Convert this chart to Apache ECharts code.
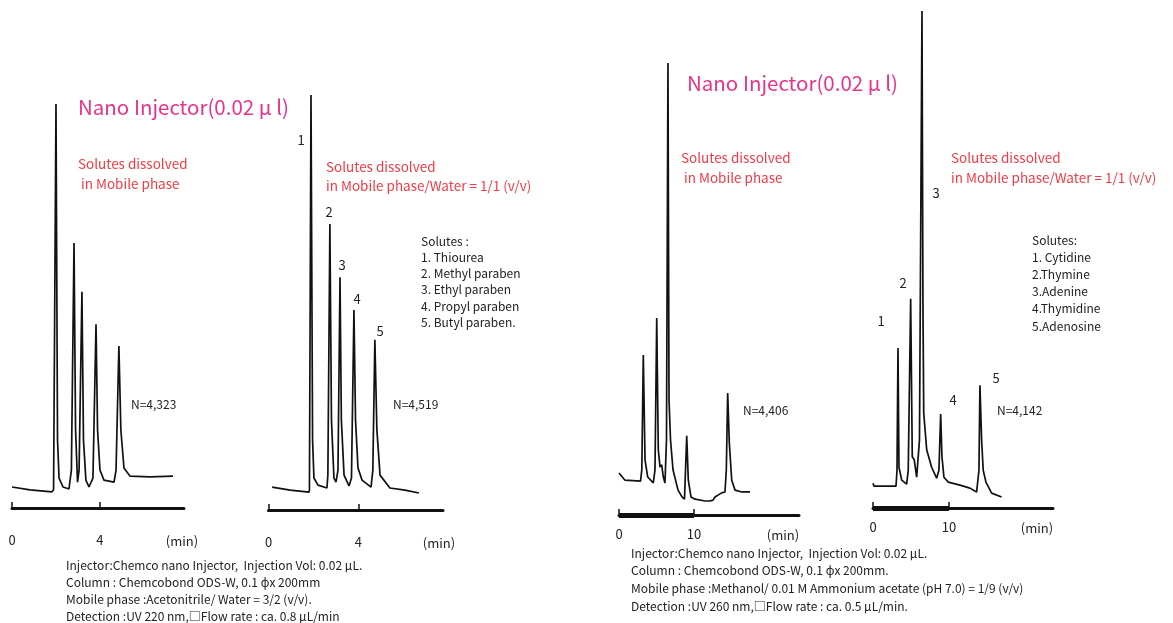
<!DOCTYPE html>
<html>
<head>
<meta charset="utf-8">
<script src="https://cdn.jsdelivr.net/npm/echarts@6/dist/echarts.min.js"></script>
<style>
  html, body { margin: 0; padding: 0; background: #fff; }
  #main { width: 1173px; height: 623px; }
  .shade { position: absolute; left: 0; top: -20px; width: 1173px; height: 20px; box-shadow: 0 2px 8px rgba(0,0,0,0.12); }
</style>
</head>
<body>
<div class="shade"></div>
<div id="main"></div>
<script>
// 左：パラベン類（0.02 µl 注入）
var p1Time   = [0.0, 0.82, 1.82, 1.89, 2.0, 2.07, 2.14, 2.32, 2.59, 2.70, 2.82, 2.89, 2.98, 3.05, 3.18, 3.25, 3.36, 3.5, 3.68, 3.82, 3.89, 4.0, 4.18, 4.64, 4.73, 4.86, 4.95, 5.09, 5.36, 6.27, 7.32];
var p1Signal = [5.2, 4.5, 4.0, 4.5, 100, 16.8, 7.4, 5.2, 4.7, 9.4, 65.6, 19.3, 6.4, 9.4, 53.5, 16.8, 6.9, 5.2, 7.4, 45.5, 19.3, 9.4, 6.9, 6.4, 9.4, 40.1, 19.3, 9.9, 7.9, 7.7, 7.9];

var p2Time   = [0.16, 0.96, 1.8, 1.82, 1.89, 1.96, 2.02, 2.2, 2.6, 2.64, 2.73, 2.8, 2.91, 3.0, 3.09, 3.18, 3.24, 3.36, 3.58, 3.69, 3.8, 3.87, 3.98, 4.16, 4.56, 4.64, 4.73, 4.82, 4.96, 5.4, 6.07, 6.69];
var p2Signal = [5.5, 4.8, 4.3, 4.8, 100, 16.9, 7.7, 6.0, 5.3, 8.4, 68.9, 21.7, 7.7, 6.7, 9.6, 56.1, 21.7, 8.4, 5.8, 7.7, 48.2, 21.7, 10.1, 7.2, 5.5, 9.6, 41.0, 19.3, 8.4, 5.3, 4.8, 4.1];

// 右：核酸塩基類
var p3Time   = [0.0, 0.8, 2.87, 3.04, 3.24, 3.47, 3.83, 4.57, 4.8, 5.03, 5.24, 5.47, 5.69, 5.91, 6.13, 6.33, 6.53, 6.67, 6.87, 7.2, 7.87, 8.4, 8.73, 8.87, 9.03, 9.24, 9.6, 10.13, 11.47, 12.13, 12.36, 12.53, 12.8, 13.69, 14.13, 14.31, 14.49, 14.71, 15.03, 15.47, 16.36, 17.47];
var p3Signal = [9.3, 7.7, 7.5, 10.0, 35.4, 12.2, 8.4, 7.1, 10.0, 43.6, 14.4, 10.6, 11.1, 8.4, 7.1, 16.6, 100, 25.4, 16.6, 10.0, 5.5, 4.0, 3.5, 10.0, 17.5, 7.7, 4.0, 3.5, 3.1, 3.1, 2.7, 3.3, 4.0, 4.9, 5.1, 10.0, 27.0, 15.9, 7.7, 5.5, 5.1, 5.1];

var p4Time   = [0, 0.13, 3.03, 3.16, 3.29, 3.42, 3.78, 4.43, 4.64, 4.96, 5.17, 5.43, 5.75, 5.96, 6.12, 6.45, 6.58, 6.68, 7.07, 7.72, 8.38, 8.68, 8.91, 9.08, 9.34, 9.91, 11.45, 12.76, 13.64, 13.95, 14.08, 14.3, 14.51, 14.87, 15.62, 16.93];
var p4Signal = [5.0, 4.4, 4.4, 7.6, 32.2, 8.2, 5.6, 4.8, 7.6, 42.1, 10.3, 9.7, 6.2, 6.0, 13.7, 100, 40.0, 19.1, 11.7, 8.2, 6.0, 7.6, 18.9, 10.3, 6.2, 5.2, 4.6, 4.0, 3.2, 7.6, 24.7, 13.7, 7.6, 5.2, 3.0, 2.2];

var ticksShort = [0, 4];
var ticksLong  = [0, 10];
var peakNumbers = ['1', '2', '3', '4', '5'];
var solutesParaben = ['Solutes :', '1. Thiourea', '2. Methyl paraben', '3. Ethyl paraben', '4. Propyl paraben', '5. Butyl paraben.'];
var solutesNucleo  = ['Solutes:', '1. Cytidine', '2.Thymine', '3.Adenine', '4.Thymidine', '5.Adenosine'];
var plates = ['N=4,323', 'N=4,519', 'N=4,406', 'N=4,142'];
var condLeft = [
  'Injector:Chemco nano Injector,  Injection Vol: 0.02 \u03bcL.',
  'Column : Chemcobond ODS-W, 0.1 \u03d5x 200mm',
  'Mobile phase :Acetonitrile/ Water = 3/2 (v/v).',
  'Detection :UV 220 nm,\u25a1Flow rate : ca. 0.8 \u03bcL/min'
];
var condRight = [
  'Injector:Chemco nano Injector,  Injection Vol: 0.02 \u03bcL.',
  'Column : Chemcobond ODS-W, 0.1 \u03d5x 200mm.',
  'Mobile phase :Methanol/ 0.01 M Ammonium acetate (pH 7.0) = 1/9 (v/v)',
  'Detection :UV 260 nm,\u25a1Flow rate : ca. 0.5 \u03bcL/min.'
];

var FONT = '"Noto Sans CJK JP", "Noto Sans", sans-serif';
var PINK = '#e8338c', RED = '#f23a45', INK = '#222';

function zip(a, b) {
  return a.map(function (v, i) { return [v, b[i]]; });
}

function xAx(gi, max, ticks, margin) {
  return {
    gridIndex: gi, type: 'value', min: 0, max: max,
    axisLine: { show: true, onZero: false, lineStyle: { color: '#111', width: 3 } },
    axisTick: { show: true, inside: true, length: 6, customValues: ticks, lineStyle: { color: '#111', width: 1.5 } },
    axisLabel: { customValues: ticks, margin: margin, fontSize: 13, color: INK, fontFamily: FONT },
    splitLine: { show: false }
  };
}

function yAx(gi) {
  return { gridIndex: gi, type: 'value', min: 0, max: 100, show: false };
}

function trace(i, t, s) {
  return {
    type: 'line', xAxisIndex: i, yAxisIndex: i, data: zip(t, s),
    symbol: 'none', clip: false, lineStyle: { color: '#111', width: 1.7 }
  };
}

function txt(x, y, text, size, color, align) {
  return {
    type: 'text', x: x, y: y,
    style: { text: text, fill: color, fontSize: size, fontFamily: FONT, align: align || 'left', verticalAlign: 'middle' }
  };
}

var g = [];
// 題
g.push(txt(78, 107, 'Nano Injector(0.02 \u03bc l)', 20.5, PINK));
g.push(txt(687, 83, 'Nano Injector(0.02 \u03bc l)', 20.5, PINK));
// 溶媒条件
g.push(txt(78, 164, 'Solutes dissolved', 13.5, RED));
g.push(txt(81, 184, 'in Mobile phase', 13.5, RED));
g.push(txt(326, 167, 'Solutes dissolved', 13.5, RED));
g.push(txt(326, 186, 'in Mobile phase/Water = 1/1 (v/v)', 13.5, RED));
g.push(txt(681, 158, 'Solutes dissolved', 13.5, RED));
g.push(txt(684, 178, 'in Mobile phase', 13.5, RED));
g.push(txt(951, 158, 'Solutes dissolved', 13.5, RED));
g.push(txt(951, 178, 'in Mobile phase/Water = 1/1 (v/v)', 13.5, RED));
// 理論段数
g.push(txt(131, 404, plates[0], 12, INK));
g.push(txt(393, 404, plates[1], 12, INK));
g.push(txt(743, 410, plates[2], 12, INK));
g.push(txt(997, 410, plates[3], 12, INK));
// ピーク番号
var pos2 = [[301, 140], [329, 212], [342, 265], [357, 299], [380, 331]];
var pos4 = [[881, 321], [903, 283], [936, 193], [953, 400], [996, 378]];
peakNumbers.forEach(function (n, i) {
  g.push(txt(pos2[i][0], pos2[i][1], n, 13, INK, 'center'));
  g.push(txt(pos4[i][0], pos4[i][1], n, 13, INK, 'center'));
});
// 溶質一覧
solutesParaben.forEach(function (s, i) { g.push(txt(421, 241 + i * 16.3, s, 12, INK)); });
solutesNucleo.forEach(function (s, i) { g.push(txt(1032, 240 + i * 17.2, s, 12, INK)); });
// (min)
g.push(txt(182, 541, '(min)', 13, INK, 'center'));
g.push(txt(439, 543, '(min)', 13, INK, 'center'));
g.push(txt(783, 535, '(min)', 13, INK, 'center'));
g.push(txt(1037, 528, '(min)', 13, INK, 'center'));
// 分析条件
condLeft.forEach(function (s, i) { g.push(txt(66, 565 + i * 17, s, 12, INK)); });
condRight.forEach(function (s, i) { g.push(txt(631, 553 + i * 17.7, s, 12, INK)); });

var chart = echarts.init(document.getElementById('main'));
var thick = function (to) {
  return {
    silent: true, symbol: 'none', label: { show: false },
    lineStyle: { color: '#111', width: 5, type: 'solid' },
    data: [[{ coord: [0, 0] }, { coord: [to, 0] }]]
  };
};
var s3 = trace(2, p3Time, p3Signal); s3.markLine = thick(10);
var s4 = trace(3, p4Time, p4Signal); s4.markLine = thick(10);

chart.setOption({
  animation: false,
  backgroundColor: '#fff',
  grid: [
    { left: 12, top: 104, width: 172, height: 404 },
    { left: 268.5, top: 95, width: 174.5, height: 415 },
    { left: 619, top: 63, width: 180, height: 452 },
    { left: 873, top: 11, width: 180, height: 497 }
  ],
  xAxis: [xAx(0, 7.82, ticksShort, 26), xAx(1, 7.76, ticksShort, 26), xAx(2, 24, ticksLong, 13), xAx(3, 23.7, ticksLong, 13)],
  yAxis: [yAx(0), yAx(1), yAx(2), yAx(3)],
  series: [trace(0, p1Time, p1Signal), trace(1, p2Time, p2Signal), s3, s4],
  graphic: g
});
</script>
</body>
</html>
